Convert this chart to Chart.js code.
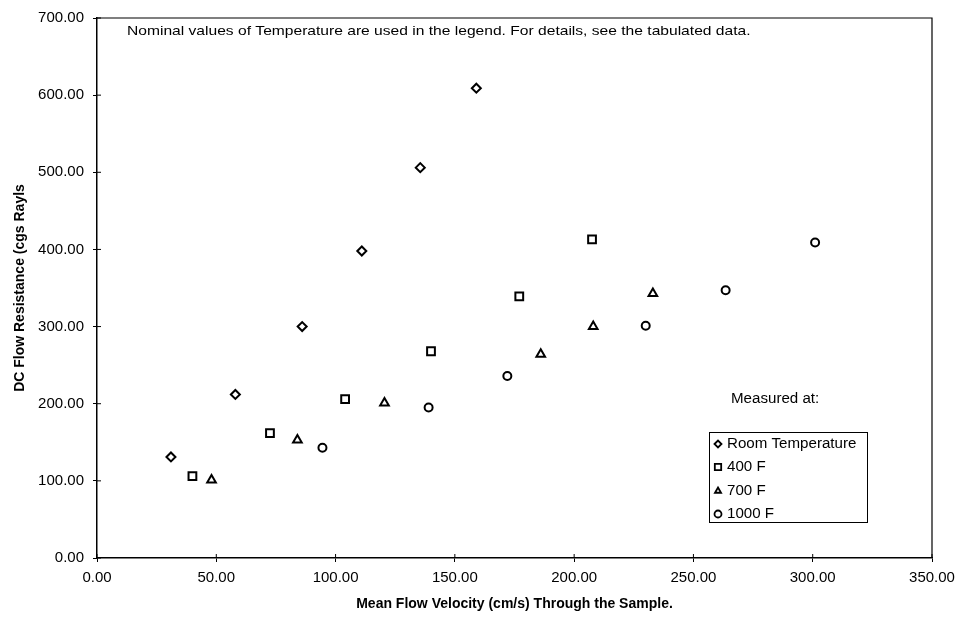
<!DOCTYPE html>
<html>
<head>
<meta charset="utf-8">
<script src="https://cdn.jsdelivr.net/npm/chart.js@4.4.0/dist/chart.umd.min.js"></script>
<style>
  body { margin: 0; background: #fff; }
  #wrap { width: 962px; height: 620px; }
</style>
</head>
<body>
<div id="wrap"><canvas id="flowChart" width="962" height="620"></canvas></div>
<script>
// velocity (cm/s) and resistance (cgs Rayls) for each temperature
let roomVel = [31, 58, 86, 111, 135.5, 159];
let roomRes = [131, 212, 300, 398, 506, 609];
let f400Vel = [40, 72.5, 104, 140, 177, 207.5];
let f400Res = [106, 162, 206, 268, 339, 413];
let f700Vel = [48, 84, 120.5, 186, 208, 233];
let f700Res = [101, 153, 201, 264, 300, 343];
let f1000Vel = [94.5, 139, 172, 230, 263.5, 301];
let f1000Res = [143, 195, 236, 301, 347, 409];

let seriesNames = ['Room Temperature', '400 F', '700 F', '1000 F'];
let markers = ['rectRot', 'rect', 'triangle', 'circle'];
let markerSize = [4.5, 5.5, 5, 4];

let noteText = 'Nominal values of Temperature are used in the legend. For details, see the tabulated data.';
let legendHeading = 'Measured at:';

const FONT = '"Liberation Sans", Arial, sans-serif';

function toPoints(xs, ys) {
    return xs.map((x, i) => ({ x: x, y: ys[i] }));
}

// the scanned lettering runs a bit wide, so stretch free text sideways
function wideText(ctx, text, x, y, sx) {
    ctx.save();
    ctx.translate(x, y);
    ctx.scale(sx, 1);
    ctx.fillText(text, 0, 0);
    ctx.restore();
}

let allVel = [roomVel, f400Vel, f700Vel, f1000Vel];
let allRes = [roomRes, f400Res, f700Res, f1000Res];

let datasets = seriesNames.map((name, i) => ({
    label: name,
    data: toPoints(allVel[i], allRes[i]),
    pointStyle: markers[i],
    pointRadius: markerSize[i],
    pointBorderWidth: 2,
    pointBorderColor: '#000',
    pointBackgroundColor: '#fff',
    showLine: false
}));

// frame, inward tick halves, note text and the boxed legend
let extras = {
    id: 'extras',
    afterDraw(chart) {
        let ctx = chart.ctx;
        let a = chart.chartArea;
        ctx.save();
        ctx.strokeStyle = '#000';
        ctx.lineWidth = 1.2;
        ctx.beginPath();
        ctx.moveTo(a.left, a.top);
        ctx.lineTo(a.right, a.top);
        ctx.lineTo(a.right, a.bottom);
        ctx.stroke();

        ctx.lineWidth = 1;
        ctx.beginPath();
        chart.scales.x.ticks.forEach(t => {
            let px = chart.scales.x.getPixelForValue(t.value);
            ctx.moveTo(px, a.bottom);
            ctx.lineTo(px, a.bottom - 4);
        });
        chart.scales.y.ticks.forEach(t => {
            let py = chart.scales.y.getPixelForValue(t.value);
            ctx.moveTo(a.left, py);
            ctx.lineTo(a.left + 4, py);
        });
        ctx.stroke();

        ctx.fillStyle = '#000';
        ctx.font = '13px ' + FONT;
        ctx.textBaseline = 'middle';
        ctx.textAlign = 'left';
        wideText(ctx, noteText, 127, 31, 1.2);

        ctx.font = '14px ' + FONT;
        wideText(ctx, legendHeading, 731, 399, 1.08);

        // legend box
        let bx = 709, by = 432, bw = 158, bh = 90;
        ctx.lineWidth = 1;
        ctx.strokeRect(bx + 0.5, by + 0.5, bw, bh);
        let rowY = [444, 467, 491, 514];
        chart.data.datasets.forEach((ds, i) => {
            ctx.fillStyle = '#fff';
            ctx.strokeStyle = '#000';
            ctx.lineWidth = 1.8;
            Chart.helpers.drawPoint(ctx, {
                pointStyle: ds.pointStyle,
                radius: ds.pointStyle === 'rect' ? 4.5 : 3.5,
                rotation: 0,
                borderWidth: 1.8
            }, bx + 9, rowY[i]);
            ctx.fillStyle = '#000';
            wideText(ctx, ds.label, bx + 18, rowY[i], 1.08);
        });
        ctx.restore();
    }
};

let ctx = document.getElementById('flowChart').getContext('2d');
let chart = new Chart(ctx, {
    type: 'scatter',
    data: { datasets: datasets },
    options: {
        responsive: false,
        animation: false,
        layout: { padding: { top: 13, right: 30, left: 0, bottom: 0 } },
        plugins: {
            legend: { display: false },
            tooltip: { enabled: false }
        },
        scales: {
            x: {
                type: 'linear',
                min: 0,
                max: 350,
                afterFit: s => { s.height = 62; },
                ticks: {
                    stepSize: 50,
                    color: '#000',
                    padding: 7,
                    font: { family: FONT, size: 15 },
                    callback: v => v.toFixed(2)
                },
                grid: { drawOnChartArea: false, drawTicks: true, tickLength: 4, color: '#000' },
                border: { display: true, color: '#000', width: 1.5 },
                title: {
                    display: true,
                    text: 'Mean Flow Velocity (cm/s) Through the Sample.',
                    color: '#000',
                    font: { family: FONT, size: 14, weight: 'bold' },
                    padding: { top: 0, bottom: 7 }
                }
            },
            y: {
                type: 'linear',
                min: 0,
                max: 700,
                afterFit: s => { s.width = 97; },
                ticks: {
                    stepSize: 100,
                    color: '#000',
                    padding: 9,
                    font: { family: FONT, size: 15 },
                    callback: v => v.toFixed(2)
                },
                grid: { drawOnChartArea: false, drawTicks: true, tickLength: 4, color: '#000' },
                border: { display: true, color: '#000', width: 1.5 },
                title: {
                    display: true,
                    text: 'DC Flow Resistance (cgs Rayls',
                    color: '#000',
                    font: { family: FONT, size: 14, weight: 'bold' },
                    padding: { top: 12, bottom: 0 }
                }
            }
        }
    },
    plugins: [extras]
});
</script>
</body>
</html>
